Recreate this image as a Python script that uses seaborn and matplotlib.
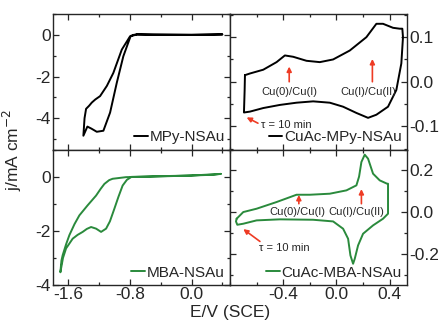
import pandas as pd
import seaborn as sns
import matplotlib.pyplot as plt
from matplotlib.ticker import MultipleLocator

# MPy-NSAu (black, top left)
mpy_E = [0.40, 0.0, -0.5, -0.71, -0.75, -0.79, -0.886, -0.971, -1.058, -1.145, -1.231, -1.30,
         -1.353, -1.405, -1.39, -1.37, -1.33, -1.296, -1.25, -1.188, -1.10, -1.016, -0.906,
         -0.80, -0.71, -0.5, 0.0, 0.40]
mpy_j = [0.02, 0.0, 0.01, 0.02, 0.0, -0.05, -1.03, -2.3, -3.73, -4.6, -4.65, -4.50,
         -4.40, -4.84, -4.0, -3.55, -3.40, -3.25, -3.1, -2.94, -2.45, -1.83, -0.71,
         -0.08, 0.02, 0.01, 0.0, 0.02]

# MBA-NSAu (green, bottom left)
mba_E = [0.38, 0.3, 0.0, -0.5, -0.78, -0.84, -0.895, -0.95, -1.003, -1.06, -1.11, -1.175,
         -1.24, -1.305, -1.36, -1.414, -1.48, -1.544, -1.63, -1.67, -1.704, -1.69, -1.674,
         -1.63, -1.587, -1.52, -1.457, -1.35, -1.24, -1.18, -1.132, -1.07, -1.025, -0.85,
         -0.5, 0.0, 0.38]
mba_j = [0.10, 0.07, 0.04, 0.01, -0.01, -0.12, -0.33, -0.75, -1.19, -1.65, -1.92, -2.04,
         -1.92, -1.86, -1.93, -2.04, -2.15, -2.29, -2.65, -3.0, -3.53, -3.1, -2.90,
         -2.50, -2.16, -1.75, -1.43, -1.06, -0.70, -0.45, -0.27, -0.13, -0.08, -0.02,
         0.0, 0.04, 0.10]

# CuAc-MPy-NSAu (black, top right)
cumpy_E = [-0.6875, -0.65, -0.55, -0.45, -0.3875, -0.325, -0.225, -0.125, -0.025, 0.1, 0.225,
           0.30, 0.35, 0.425, 0.475, 0.495, 0.50, 0.4875, 0.45, 0.3875, 0.30, 0.2375, 0.15,
           0.05, -0.05, -0.175, -0.30, -0.425, -0.55, -0.65, -0.695, -0.69, -0.6875]
cumpy_j = [0.0148, 0.0185, 0.027, 0.044, 0.059, 0.056, 0.047, 0.044, 0.050, 0.070, 0.100,
           0.130, 0.13, 0.121, 0.119, 0.119, 0.10, 0.041, -0.0185, -0.056, -0.074, -0.081,
           -0.070, -0.056, -0.047, -0.044, -0.047, -0.052, -0.059, -0.067, -0.069, -0.02,
           0.0148]

# CuAc-MBA-NSAu (green, bottom right)
cumba_E = [-0.75, -0.70, -0.60, -0.45, -0.30, -0.20, -0.05, 0.075, 0.15, 0.17, 0.1875, 0.2125,
           0.2375, 0.275, 0.325, 0.38, 0.3875, 0.3875, 0.35, 0.275, 0.2, 0.1625, 0.1375, 0.125,
           0.105, 0.0875, 0.05, -0.025, -0.175, -0.425, -0.6, -0.70, -0.745, -0.755, -0.75]
cumba_j = [-0.032, 0.0, 0.016, 0.048, 0.083, 0.083, 0.088, 0.104, 0.128, 0.17, 0.24, 0.275,
           0.256, 0.184, 0.152, 0.136, 0.136, -0.008, -0.032, -0.064, -0.104, -0.16, -0.224,
           -0.248, -0.208, -0.128, -0.08, -0.045, -0.037, -0.035, -0.04, -0.056, -0.061,
           -0.045, -0.032]

green = '#2a8a3c'
red = '#ee3b24'

sns.set_style('ticks')
plt.rcParams['font.family'] = ['Liberation Sans', 'DejaVu Sans']
plt.rcParams['axes.unicode_minus'] = False

fig, axs = plt.subplots(2, 2, figsize=(4.43, 3.23), dpi=100, sharex='col')
fig.subplots_adjust(left=0.1196, right=0.9187, top=0.9567, bottom=0.1176, wspace=0, hspace=0)
(ax1, ax2), (ax3, ax4) = axs

panels = [
    (ax1, mpy_E, mpy_j, 'black', 'MPy-NSAu'),
    (ax2, cumpy_E, cumpy_j, 'black', 'CuAc-MPy-NSAu'),
    (ax3, mba_E, mba_j, green, 'MBA-NSAu'),
    (ax4, cumba_E, cumba_j, green, 'CuAc-MBA-NSAu'),
]
for ax, E, j, c, lab in panels:
    df = pd.DataFrame({'E': E, 'j': j})
    sns.lineplot(data=df, x='E', y='j', sort=False, estimator=None, color=c, lw=1.4,
                 label=lab, ax=ax)
    ax.legend(loc='lower right', frameon=False, fontsize=11, handlelength=0.9,
              handletextpad=0.1, borderpad=0.15, borderaxespad=0.2)
    ax.set_xlabel('')
    ax.set_ylabel('')
    for s in ax.spines.values():
        s.set_linewidth(1.0)
    ax.tick_params(which='both', direction='in', top=True, bottom=True, left=True, right=True,
                   labelsize=12.5, width=0.9, pad=1.5)
    ax.tick_params(which='major', length=4)
    ax.tick_params(which='minor', length=2.5)

# left column
ax1.set_xlim(-1.8, 0.5)
ax1.xaxis.set_major_locator(MultipleLocator(0.8))
ax1.xaxis.set_minor_locator(MultipleLocator(0.4))
ax1.set_ylim(-5.5, 1.0)
ax1.yaxis.set_major_locator(MultipleLocator(2))
ax1.yaxis.set_minor_locator(MultipleLocator(1))
ax3.set_ylim(-4.0, 1.0)
ax3.yaxis.set_major_locator(MultipleLocator(2))
ax3.yaxis.set_minor_locator(MultipleLocator(1))
ax3.set_xticks([-1.6, -0.8, 0.0])
ax3.set_xticklabels(['-1.6', '-0.8', '0.0'])

# right column
ax2.set_xlim(-0.8, 0.53)
ax2.xaxis.set_major_locator(MultipleLocator(0.4))
ax2.xaxis.set_minor_locator(MultipleLocator(0.2))
ax2.set_ylim(-0.152, 0.152)
ax2.yaxis.set_major_locator(MultipleLocator(0.1))
ax2.yaxis.set_minor_locator(MultipleLocator(0.05))
ax4.set_ylim(-0.35, 0.30)
ax4.yaxis.set_major_locator(MultipleLocator(0.2))
ax4.yaxis.set_minor_locator(MultipleLocator(0.1))
for ax in (ax2, ax4):
    ax.tick_params(axis='y', labelleft=False, labelright=True)
ax4.set_xticks([-0.4, 0.0, 0.4])
ax4.set_xticklabels(['-0.4', '0.0', '0.4'])

for ax in (ax1, ax2):
    ax.tick_params(axis='x', labelbottom=False)

# annotations
arw = dict(arrowstyle='-|>', color=red, lw=1.2, mutation_scale=7, shrinkA=0, shrinkB=0)
ax2.annotate('', xy=(-0.355, 0.034), xytext=(-0.355, 0.0), arrowprops=arw)
ax2.annotate('', xy=(0.27, 0.051), xytext=(0.27, 0.0), arrowprops=arw)
ax2.text(-0.355, -0.022, 'Cu(0)/Cu(I)', fontsize=8, ha='center', va='center')
ax2.text(0.24, -0.022, 'Cu(I)/Cu(II)', fontsize=8, ha='center', va='center')
ax2.annotate('', xy=(-0.675, -0.08), xytext=(-0.59, -0.093), arrowprops=arw)
ax2.text(-0.565, -0.096, 'τ = 10 min', fontsize=8, ha='left', va='center')

ax4.annotate('', xy=(-0.2825, 0.082), xytext=(-0.2825, 0.04), arrowprops=arw)
ax4.annotate('', xy=(0.1875, 0.11), xytext=(0.1875, 0.04), arrowprops=arw)
ax4.text(-0.29, 0.0, 'Cu(0)/Cu(I)', fontsize=8, ha='center', va='center')
ax4.text(0.15, 0.0, 'Cu(I)/Cu(II)', fontsize=8, ha='center', va='center')
ax4.annotate('', xy=(-0.70, -0.082), xytext=(-0.575, -0.141), arrowprops=arw)
ax4.text(-0.39, -0.173, 'τ = 10 min', fontsize=8, ha='center', va='center')

fig.text(12 / 443, 0.537, 'j/mA cm$^{-2}$', rotation=90, ha='center', va='center', fontsize=12.5)
fig.text(230 / 443, 1 - 312 / 323, 'E/V (SCE)', ha='center', va='center', fontsize=12.5)

fig.savefig('out.png', dpi=100)
